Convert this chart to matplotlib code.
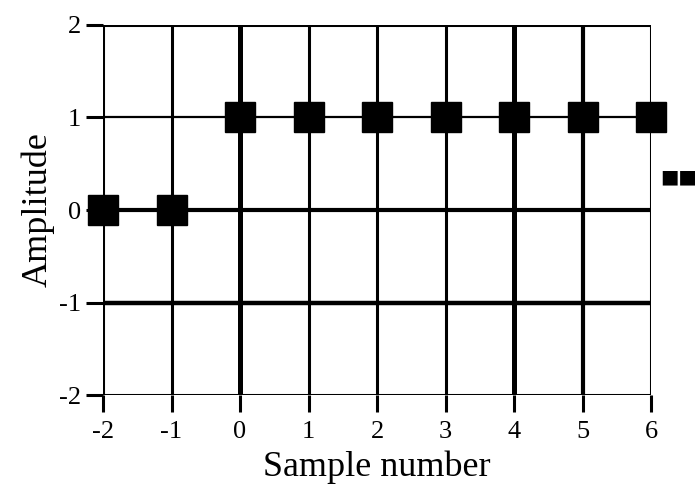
import matplotlib
matplotlib.use("Agg")
import matplotlib.pyplot as plt

# ---- data ----
sample_number = [-2, -1, 0, 1, 2, 3, 4, 5, 6]
amplitude = [0, 0, 1, 1, 1, 1, 1, 1, 1]
x_ticks = [-2, -1, 0, 1, 2, 3, 4, 5, 6]
y_ticks = [-2, -1, 0, 1, 2]

# line widths of the grid (px in the scan -> pt)
vline_width = {-2: 2.2, -1: 2.2, 0: 3.6, 1: 2.2, 2: 2.2, 3: 2.2, 4: 3.6, 5: 3.0, 6: 2.2}
hline_width = {-2: 2.2, -1: 3.2, 0: 3.0, 1: 1.6, 2: 2.2}

plt.rcParams['font.family'] = ['Liberation Serif', 'DejaVu Serif']
plt.rcParams['axes.unicode_minus'] = False

fig = plt.figure(figsize=(6.98, 4.86), dpi=100)
ax = fig.add_axes([0.1476, 0.1872, 0.7851, 0.7614])

for xv in x_ticks:
    ax.axvline(xv, color='black', lw=vline_width[xv], zorder=1)
for yv in y_ticks:
    ax.axhline(yv, color='black', lw=hline_width[yv], zorder=1)

ax.plot(sample_number, amplitude, linestyle='none', marker='s', markersize=21,
        color='black', clip_on=False, zorder=3)

# the ellipsis after the last sample
ax.text(1.016, 0.59, '\u25a0\u25a0', transform=ax.transAxes, fontsize=14,
        family=['DejaVu Sans'], va='center', ha='left')

ax.set_xlim(-2, 6)
ax.set_ylim(-2, 2)
ax.set_xticks(x_ticks)
ax.set_yticks(y_ticks)
ax.tick_params(axis='both', which='major', labelsize=19, length=12, width=2.2,
               direction='out')
ax.tick_params(axis='x', pad=7)
ax.tick_params(axis='y', pad=4)

for s in ax.spines.values():
    s.set_visible(False)

ax.set_xlabel("Sample number", fontsize=26, labelpad=5)
ax.set_ylabel("Amplitude", fontsize=26, labelpad=3)

fig.savefig("out.png", dpi=100)
plt.close(fig)
